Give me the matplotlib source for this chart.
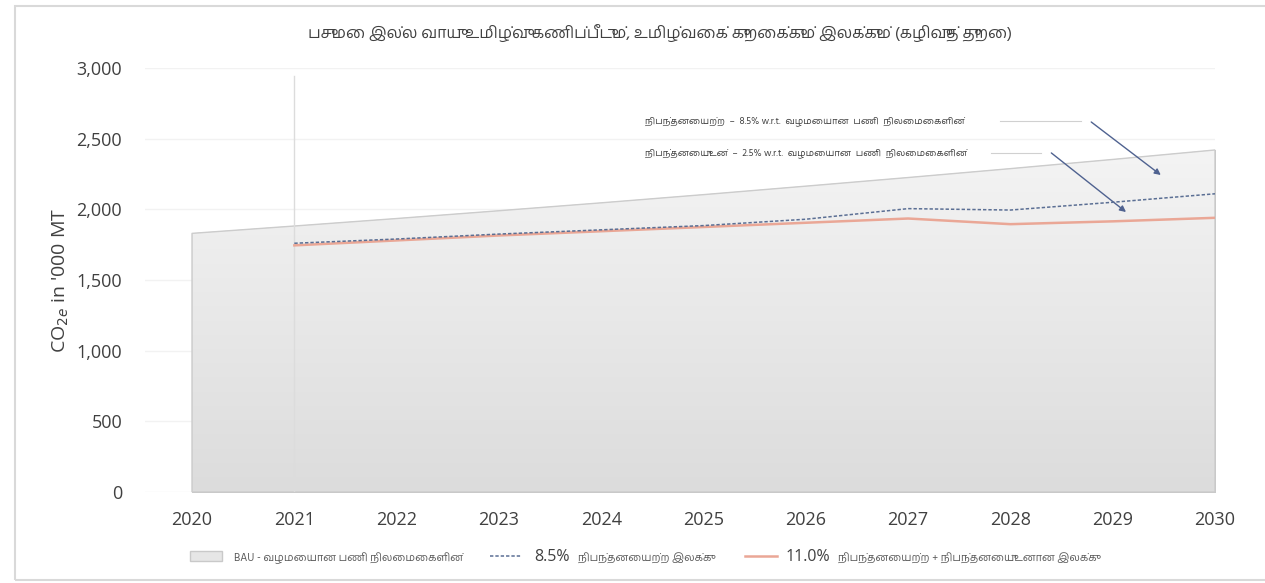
import numpy as np
import matplotlib
matplotlib.use("Agg")
import matplotlib.pyplot as plt
from matplotlib.patches import Rectangle

years = [2020, 2021, 2022, 2023, 2024, 2025, 2026, 2027, 2028, 2029, 2030]
bau = [1830, 1882, 1935, 1990, 2046, 2104, 2164, 2225, 2288, 2353, 2420]
tgt_years = [2021, 2022, 2023, 2024, 2025, 2026, 2027, 2028, 2029, 2030]
tgt_85 = [1760, 1790, 1825, 1855, 1885, 1930, 2005, 1995, 2050, 2110]
tgt_110 = [1745, 1780, 1815, 1845, 1875, 1905, 1935, 1895, 1915, 1940]
yticks = [0, 500, 1000, 1500, 2000, 2500, 3000]

title = "பசுமை இல்ல வாயு உமிழ்வு கணிப்பீடும், உமிழ்வைக் குறைக்கும் இலக்கும் (கழிவுத் துறை)"
lbl_bau = "BAU - வழமையான பணி நிலைமைகளின்"
lbl_85 = "8.5%"
lbl_85_tail = "நிபந்தனையற்ற இலக்கு"
lbl_110 = "11.0%"
lbl_110_tail = "நிபந்தனையற்ற + நிபந்தனையுடனான இலக்கு"
note_85 = "நிபந்தனையற்ற  –  8.5% w.r.t.  வழமையான  பணி  நிலைமைகளின்"
note_25 = "நிபந்தனையுடன்  –  2.5% w.r.t.  வழமையான  பணி  நிலைமைகளின்"

tamil = ["Hind Madurai", "Lohit Tamil", "DejaVu Sans"]
plt.rcParams["font.family"] = ["Open Sans", "DejaVu Sans"]

W, H = 1265, 583
fig = plt.figure(figsize=(W / 100, H / 100), dpi=100)
fig.patches.append(Rectangle((15 / W, 1 - 580 / H), 1.2, (580 - 6) / H,
                             transform=fig.transFigure, fill=False,
                             edgecolor="#d9d9d9", linewidth=1.5, clip_on=False))

ax = fig.add_axes([145 / W, 1 - 492 / H, (1215 - 145) / W, (492 - 68) / H])
ax.set_xlim(2019.54, 2030.0)
ax.set_ylim(0, 3000)

# BAU area with vertical gradient
area = ax.fill_between(years, 0, bau, facecolor="#e6e6e6", edgecolor="#c9c9c9",
                       linewidth=1.0, zorder=2)
grad = np.linspace(0, 1, 256).reshape(-1, 1)
img = ax.imshow(grad, cmap=matplotlib.colors.LinearSegmentedColormap.from_list(
    "g", ["#dcdcdc", "#f4f4f4"]), extent=[years[0], years[-1], 0, max(bau)],
    origin="lower", aspect="auto", zorder=2.1)
img.set_clip_path(area.get_paths()[0], transform=ax.transData)
ax.fill_between(years, 0, bau, facecolor="none", edgecolor="#cccccc",
                linewidth=1.0, zorder=2.2)

ax.axvline(years[1], ymin=0, ymax=0.98, color="#dcdcdc", linewidth=1.0, zorder=2.3)

l85, = ax.plot(tgt_years, tgt_85, color="#5b6f94", linestyle=(0, (2.2, 1.3)),
               linewidth=1.1, zorder=4)
l110, = ax.plot(tgt_years, tgt_110, color="#eaa796", linewidth=1.8, zorder=3)

ax.set_yticks(yticks)
ax.set_yticklabels([f"{v:,}" for v in yticks], fontsize=13, color="#404040")
ax.set_xticks(years)
ax.set_xticklabels([str(y) for y in years], fontsize=13, color="#404040")
ax.tick_params(length=0)
ax.tick_params(axis="x", pad=14)
ax.tick_params(axis="y", pad=16.5)
ax.grid(axis="y", color="#f2f2f2", linewidth=1.0, zorder=0)
for s in ax.spines.values():
    s.set_visible(False)
ax.set_ylabel("CO$_{2e}$ in '000 MT", fontsize=14, color="#404040", labelpad=4)

fig.text(660 / W, 1 - 33 / H, title, family=tamil, fontsize=11.5,
         color="#404040", ha="center", va="center")

# annotations
ax.text(2024.43, 2625, note_85, family=tamil, fontsize=6.8, color="#404040",
        va="center")
ax.plot([2027.9, 2028.69], [2625, 2625], color="#d0d0d0", linewidth=0.8, zorder=5)
ax.annotate("", xy=(2029.47, 2243), xytext=(2028.79, 2618),
            arrowprops=dict(arrowstyle="-|>", color="#4f6290", lw=1.0,
                            mutation_scale=9, shrinkA=0, shrinkB=0))
ax.text(2024.43, 2399, note_25, family=tamil, fontsize=6.8, color="#404040",
        va="center")
ax.plot([2027.81, 2028.30], [2399, 2399], color="#d0d0d0", linewidth=0.8, zorder=5)
ax.annotate("", xy=(2029.13, 1981), xytext=(2028.40, 2399),
            arrowprops=dict(arrowstyle="-|>", color="#4f6290", lw=1.0,
                            mutation_scale=9, shrinkA=0, shrinkB=0))

# legend
ly = 1 - 557 / H
leg1 = fig.legend([area, l85], [lbl_bau, lbl_85], loc="center left",
                  bbox_to_anchor=(190 / W, ly), ncol=2, frameon=False,
                  handlelength=2.3, handletextpad=0.9, columnspacing=1.9,
                  borderpad=0, borderaxespad=0)
leg2 = fig.legend([l110], [lbl_110], loc="center left",
                  bbox_to_anchor=(745 / W, ly), frameon=False,
                  handlelength=2.3, handletextpad=0.6, borderpad=0, borderaxespad=0)
texts = leg1.get_texts()
texts[0].set_fontsize(7.8)
texts[0].set_family(tamil)
texts[0].set_color("#595959")
texts[1].set_fontsize(11.5)
texts[1].set_color("#404040")
t110 = leg2.get_texts()[0]
t110.set_fontsize(11.5)
t110.set_color("#404040")

# tails of the legend labels go right after the big percentage text
fig.canvas.draw()
for t, tail in [(texts[1], lbl_85_tail), (t110, lbl_110_tail)]:
    bb = t.get_window_extent()
    fig.text((bb.x1 + 8) / W, (bb.y0 + bb.y1) / 2 / H - 1 / H, tail,
             family=tamil, fontsize=7.8, color="#595959", va="center")

fig.savefig("out.png", dpi=100)
